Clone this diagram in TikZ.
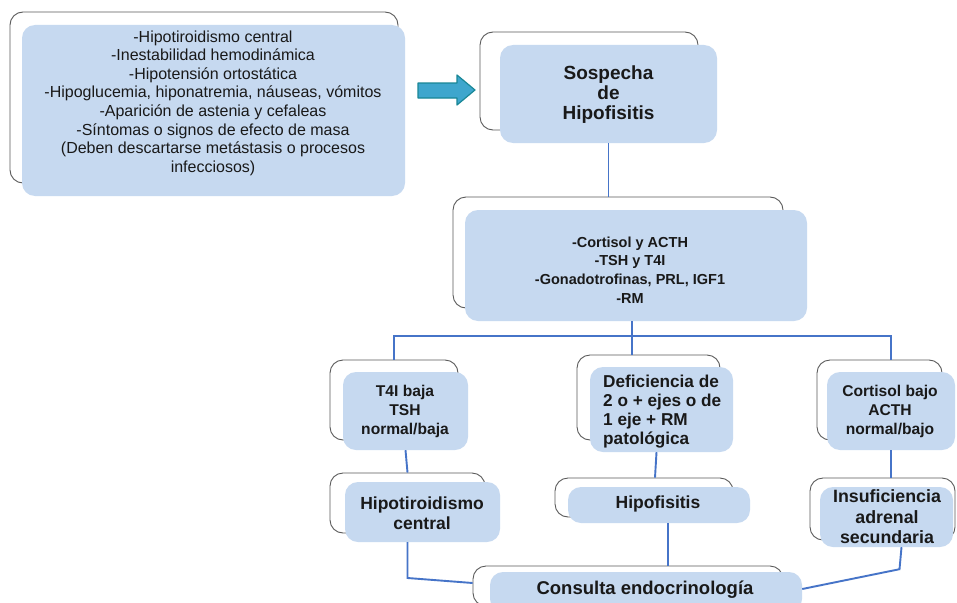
\documentclass[tikz,border=0pt]{standalone}
\usepackage{fontspec}
\setmainfont{Liberation Sans}
\usetikzlibrary{calc}
\definecolor{frontblue}{RGB}{198,217,240}
\definecolor{backline}{RGB}{90,90,90}
\definecolor{conn}{RGB}{70,116,200}
\definecolor{arrfill}{RGB}{62,166,205}
\definecolor{arrline}{RGB}{25,135,150}
\definecolor{txt}{RGB}{25,25,25}
\begin{document}
\begin{tikzpicture}[x=1pt,y=-1pt,
 backbox/.style={draw=backline, line width=0.9pt, fill=white, rounded corners=13pt, inner sep=0pt},
 frontbox/.style={fill=frontblue, draw=none, rounded corners=13pt, inner sep=0pt},
 plaintext/.style={text=txt, align=center, inner sep=0pt, font=\fontsize{16}{18.6}\selectfont},
 boldtext/.style={text=txt, align=center, inner sep=0pt, font=\bfseries\fontsize{15.6}{19}\selectfont},
 bigtext/.style={text=txt, align=center, inner sep=0pt, font=\bfseries\fontsize{17.5}{20.5}\selectfont},
 link/.style={draw=conn, line width=1.9pt}]
\useasboundingbox (0,0) rectangle (957,602);
\clip (0,0) rectangle (957,602);
\fill[white] (0,0) rectangle (957,602);

% box 1
\node[backbox, minimum width=388pt, minimum height=171pt] (b1b) at (204,97.5) {};
\node[frontbox, minimum width=383pt, minimum height=171pt] (b1f) at (213.5,110.5) {};
\node[plaintext] (t1) at (213,103) {-Hipotiroidismo central\\-Inestabilidad hemodinámica\\-Hipotensión ortostática\\-Hipoglucemia, hiponatremia, náuseas, vómitos\\-Aparición de astenia y cefaleas\\-Síntomas o signos de efecto de masa\\(Deben descartarse metástasis o procesos\\infecciosos)};

% block arrow
\path[draw=arrline, fill=arrfill, line width=1.2pt, line join=round] (418,83) -- (457,83) -- (457,75) -- (475,90) -- (457,105) -- (457,98) -- (418,98) -- cycle;

% box 2
\node[backbox, minimum width=218pt, minimum height=98pt] (b2b) at (589,81) {};
\node[frontbox, minimum width=217pt, minimum height=98pt] (b2f) at (608.5,94) {};
\node[bigtext, font=\bfseries\fontsize{19}{20}\selectfont] (t2) at (608.5,95) {Sospecha\\de\\Hipofisitis};

% box 3
\node[backbox, minimum width=330pt, minimum height=111pt] (b3b) at (618,252.5) {};
\node[frontbox, minimum width=342pt, minimum height=111pt] (b3f) at (636,265.5) {};
\node[boldtext, font=\bfseries\fontsize{14.5}{18.7}\selectfont] (t3) at (630,270) {-Cortisol y ACTH\\-TSH y T4I\\-Gonadotrofinas, PRL, IGF1\\-RM};

% box 4
\node[backbox, minimum width=128pt, minimum height=80pt] (b4b) at (394,400) {};
\node[frontbox, minimum width=125pt, minimum height=78pt] (b4f) at (405.5,411) {};
\node[boldtext] (t4) at (405,411) {T4I baja\\TSH\\normal/baja};

% box 5
\node[backbox, minimum width=143pt, minimum height=85pt] (b5b) at (648.5,397.5) {};
\node[frontbox, minimum width=143pt, minimum height=85pt] (b5f) at (661.5,409.5) {};
\node[boldtext, font=\bfseries\fontsize{17.2}{19}\selectfont, align=left, anchor=west] (t5) at (603,411.5) {Deficiencia de\\2 o + ejes o de\\1 eje + RM\\patológica};

% box 6
\node[backbox, minimum width=125pt, minimum height=80pt] (b6b) at (879.5,400) {};
\node[frontbox, minimum width=128pt, minimum height=78pt] (b6f) at (891,411) {};
\node[boldtext] (t6) at (890,411) {Cortisol bajo\\ACTH\\normal/bajo};

% box 7
\node[backbox, minimum width=155pt, minimum height=60pt] (b7b) at (407.5,503) {};
\node[frontbox, minimum width=155pt, minimum height=60pt] (b7f) at (422.5,512) {};
\node[bigtext] (t7) at (422,513) {Hipotiroidismo\\central};

% box 8
\node[backbox, minimum width=178pt, minimum height=39pt] (b8b) at (644,497.5) {};
\node[frontbox, minimum width=182pt, minimum height=36pt] (b8f) at (659,505) {};
\node[bigtext] (t8) at (658,504) {Hipofisitis};

% box 9
\node[backbox, minimum width=145pt, minimum height=62pt] (b9b) at (882.5,509) {};
\node[frontbox, minimum width=133pt, minimum height=60pt] (b9f) at (886.5,517) {};
\node[bigtext, font=\bfseries\fontsize{17.8}{20.5}\selectfont] (t9) at (887,517) {Insuficiencia\\adrenal\\secundaria};

% box 10
\node[backbox, minimum width=310pt, minimum height=40pt] (b10b) at (628,586) {};
\node[frontbox, minimum width=312pt, minimum height=40pt] (b10f) at (646,592) {};
\node[bigtext, font=\bfseries\fontsize{18.5}{20.5}\selectfont] (t10) at (645,590) {Consulta endocrinología};

% connectors
\coordinate (hbar) at (0,336);
\draw[link] (b2f.south) -- (b2f.south |- b3b.north);
\draw[link] ($(b3f.south)+(-4,0)$) -- ($(b3f.south |- b5b.north)+(-4,0)$);
\draw[link] (b4b.north) -- (b4b.north |- hbar) -- (b6f.north |- hbar) -- (b6f.north |- b6b.north);
\draw[link] (b4f.south) -- (b7b.north);
\draw[link] ($(b5f.south)+(-5,0)$) -- ($(b8b.north)+(11,0)$);
\draw[link] (b6f.south) -- (b6f.south |- b9b.north);
\draw[link] (b7b.north |- b7f.south) -- ($(b7b.north |- b10b.west)+(0,-8)$) -- ($(b10b.west)+(0,-3)$);
\draw[link] ($(b8f.south)+(9,0)$) -- ($(b8f.south |- b10b.north)+(9,0)$);
\draw[link] ($(b9f.south)+(15,0)$) -- ($(b9f.south)+(13,22)$) -- ($(b10f.east)+(0,-3)$);
\end{tikzpicture}
\end{document}
